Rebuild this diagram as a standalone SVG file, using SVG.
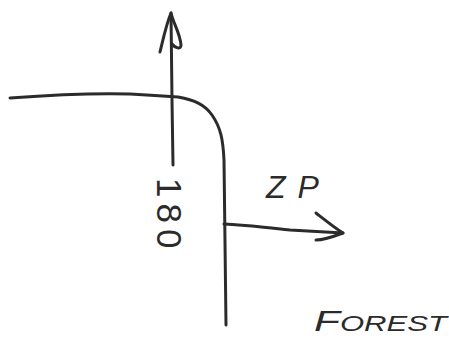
<svg xmlns="http://www.w3.org/2000/svg" width="449" height="339" viewBox="0 0 449 339">
<style>
.ink{fill:none;stroke:#2b2b2b;stroke-width:3;stroke-linecap:round;stroke-linejoin:round}
.txt{font-family:"Liberation Sans",Arial,sans-serif;fill:#2b2b2b}
</style>
<rect width="449" height="339" fill="#fff"/>
<g id="connectors">
<path id="boundary" class="ink" d="M10,98 C50,95 90,93 130,94 C150,95 165,96 178,97 C195,100 205,105 212,115 C221,128 223,140 224,160 L226,325"/>
<path id="up-arrow" class="ink" d="M173,165 L172,100 L171,13"/>
<path id="up-arrow-head" class="ink" d="M160,52 C163,40 166,25 171,13 C174,25 180,33 181,45 C181,50 175,48 172,44"/>
<path id="right-arrow" class="ink" d="M224,224 C250,225 265,228 290,230 C310,231 328,232 343,233"/>
<path id="right-arrow-head" class="ink" d="M316,213 C325,220 335,228 343,233 C335,236 322,240 316,240"/>
</g>
<g id="label-180">
<text class="txt" font-size="35" letter-spacing="6" transform="translate(157,178) rotate(90)">180</text>
</g>
<g id="label-zp">
<text class="txt" x="266" y="198" font-size="32" font-style="italic" letter-spacing="12">ZP</text>
</g>
<g id="label-forest">
<text class="txt" x="314" y="331" font-size="22" font-style="italic" textLength="133" lengthAdjust="spacingAndGlyphs"><tspan font-size="30">F</tspan>OREST</text>
</g>
</svg>
